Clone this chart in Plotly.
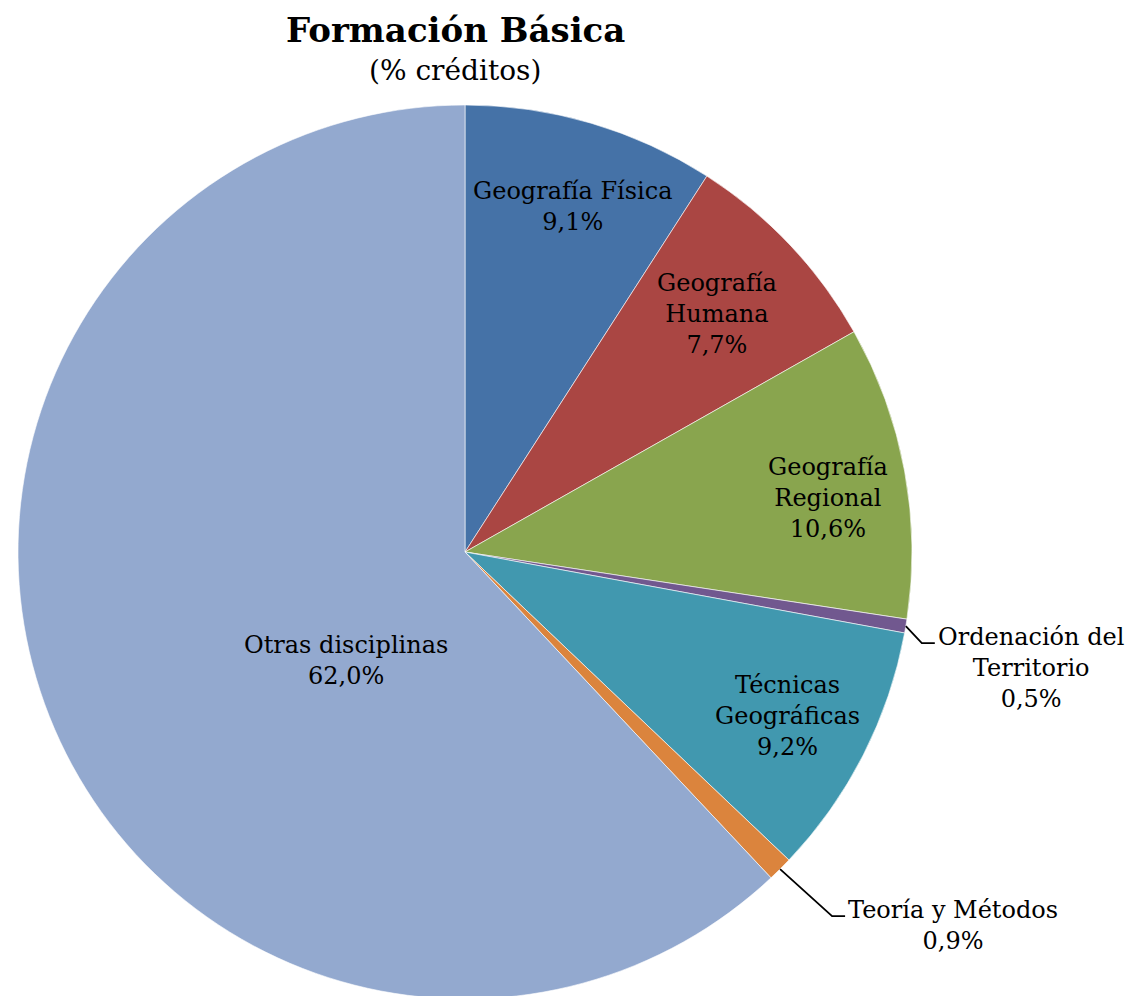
import math
import plotly.graph_objects as go

labels = ["Geografía Física", "Geografía<br>Humana", "Geografía<br>Regional",
          "Ordenación del<br>Territorio", "Técnicas<br>Geográficas",
          "Teoría y Métodos", "Otras disciplinas"]
values = [9.1, 7.7, 10.6, 0.5, 9.2, 0.9, 62.0]
colors = ["#4572A7", "#AA4643", "#89A54E", "#71588F", "#4198AF", "#DB843D", "#93A9CF"]
outside = [False, False, False, True, False, True, False]

W, H = 1142, 996
FONT = "DejaVu Serif"
PAGE_OFF = 8  # body margin of the html page

# pie placement (page pixels)
cx, cy, radius = 465 - PAGE_OFF, 552 - PAGE_OFF, 447
# inside label placement: (radius fraction, angle nudge in degrees)
label_pos = [(0.81, 1), (0.775, 0), (0.82, 2), None, (0.81, 0), None, (0.36, -20.6)]


def to_paper(px, py):
    return px / W, 1 - py / H


def pct(v):
    return f"{v:.1f}".replace(".", ",") + "%"


fig = go.Figure(go.Pie(
    labels=labels, values=values, sort=False, direction="clockwise", rotation=0,
    marker=dict(colors=colors, line=dict(color="white", width=0.6)),
    textinfo="none", hoverinfo="label+percent",
    domain=dict(x=[(cx - radius) / W, (cx + radius) / W],
                y=[1 - (cy + radius) / H, 1 - (cy - radius) / H]),
    showlegend=False,
))

annotations = []
shapes = []
total = sum(values)
cum = 0
for lab, v, out, lp in zip(labels, values, outside, label_pos):
    mid = (cum + v / 2) / total * 2 * math.pi
    cum += v
    sx, sy = math.sin(mid), -math.cos(mid)
    text = f"{lab}<br>{pct(v)}"
    if out:
        x0, y0 = cx + radius * sx, cy + radius * sy
        dy = 17 if sy < 0.3 else 47
        dx = 16 if sy < 0.3 else 52
        x1, y1 = x0 + dx, y0 + dy
        x2 = x1 + 13
        p0, p1, p2 = to_paper(x0, y0), to_paper(x1, y1), to_paper(x2, y1)
        shapes.append(dict(type="path", xref="paper", yref="paper",
                           path=f"M {p0[0]},{p0[1]} L {p1[0]},{p1[1]} L {p2[0]},{p2[1]}",
                           line=dict(color="black", width=1.8)))
        ax, ay = to_paper(x2 + 1, y1 - 22)
        annotations.append(dict(x=ax, y=ay, xref="paper", yref="paper", text=text,
                                showarrow=False, xanchor="left", yanchor="top", align="center",
                                font=dict(family=FONT, size=24, color="black")))
    else:
        frac, nudge = lp
        ang = mid + math.radians(nudge)
        px = cx + radius * frac * math.sin(ang)
        py = cy - radius * frac * math.cos(ang)
        ax, ay = to_paper(px, py)
        annotations.append(dict(x=ax, y=ay, xref="paper", yref="paper", text=text,
                                showarrow=False, xanchor="center", yanchor="middle", align="center",
                                font=dict(family=FONT, size=24, color="black")))

annotations.append(dict(x=(455 - PAGE_OFF) / W, y=1 - (30 - PAGE_OFF) / H,
                        xref="paper", yref="paper",
                        text="<b>Formación Básica</b>", showarrow=False,
                        xanchor="center", yanchor="middle",
                        font=dict(family=FONT, size=34, color="black")))
annotations.append(dict(x=(455 - PAGE_OFF) / W, y=1 - (70 - PAGE_OFF) / H,
                        xref="paper", yref="paper",
                        text="(% créditos)", showarrow=False,
                        xanchor="center", yanchor="middle",
                        font=dict(family=FONT, size=28, color="black")))

fig.update_layout(
    width=W, height=H,
    margin=dict(l=0, r=0, t=0, b=0),
    paper_bgcolor="white", plot_bgcolor="white",
    annotations=annotations, shapes=shapes,
)

fig.write_html("out.html")
